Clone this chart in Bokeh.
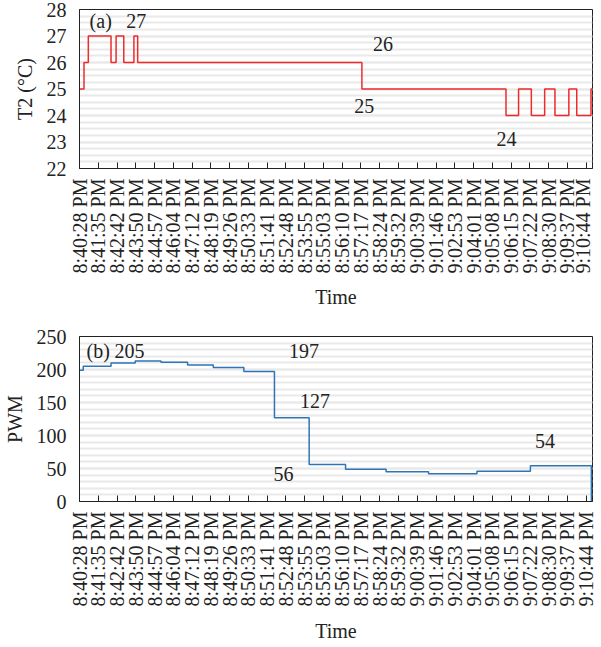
import math
from bokeh.plotting import figure
from bokeh.layouts import column
from bokeh.models import Range1d, FixedTicker, SingleIntervalTicker, ColumnDataSource
from bokeh.embed import file_html
from bokeh.resources import INLINE
from bokeh.core.properties import value

FONT = "Liberation Serif"

time_labels = ["8:40:28 PM", "8:41:35 PM", "8:42:42 PM", "8:43:50 PM", "8:44:57 PM",
               "8:46:04 PM", "8:47:12 PM", "8:48:19 PM", "8:49:26 PM", "8:50:33 PM",
               "8:51:41 PM", "8:52:48 PM", "8:53:55 PM", "8:55:03 PM", "8:56:10 PM",
               "8:57:17 PM", "8:58:24 PM", "8:59:32 PM", "9:00:39 PM", "9:01:46 PM",
               "9:02:53 PM", "9:04:01 PM", "9:05:08 PM", "9:06:15 PM", "9:07:22 PM",
               "9:08:30 PM", "9:09:37 PM", "9:10:44 PM"]

# T2 temperature (step changes, x in tick-index units)
t2_time = [0, 0.24, 0.47, 1.68, 1.95, 2.36, 2.9, 3.1, 15.05, 22.73, 23.4, 24.08,
           24.79, 25.34, 26.08, 26.5, 27.26, 27.34]
t2_vals = [25, 26, 27, 26, 27, 26, 27, 26, 25, 24, 25, 24, 25, 24, 25, 24, 25, 25]

# PWM (step changes)
pwm_time = [0, 0.2, 1.68, 2.97, 4.34, 5.76, 7.13, 8.76, 10.39, 12.24, 14.18, 16.34,
            18.6, 21.18, 24.03, 27.28]
pwm_vals = [199, 205, 210, 213, 211, 207, 203, 197, 127, 56, 49, 45, 42, 46, 54, 0]

# annotations
a_text = ["(a)", "27", "26", "25", "24"]
a_x = [1.13, 3.03, 16.18, 15.18, 22.76]
a_y = [27.57, 27.57, 26.71, 24.35, 23.11]

b_text = ["(b)", "205", "197", "127", "56", "54"]
b_x = [1.0, 2.66, 11.97, 12.55, 10.87, 24.81]
b_y = [228, 228, 228, 153, 42, 92]

X_END = 27.34


def make_fig(ylo, yhi, interval, nminor, frame_h, top_border, ylabel,
             lab_standoff, title_standoff):
    p = figure(output_backend="svg", toolbar_location=None,
               frame_width=513, frame_height=frame_h,
               x_range=Range1d(0, X_END), y_range=Range1d(ylo, yhi),
               min_border_left=68, min_border_right=11,
               min_border_top=top_border, min_border_bottom=0)
    p.background_fill_color = "white"
    p.border_fill_color = "white"
    p.outline_line_color = "#222222"
    p.outline_line_width = 1

    xa = p.xaxis[0]
    xa.ticker = FixedTicker(ticks=list(range(len(time_labels))))
    xa.major_label_overrides = {i: s for i, s in enumerate(time_labels)}
    xa.major_label_orientation = math.pi / 2
    xa.major_tick_in = 6
    xa.major_tick_out = 0
    xa.minor_tick_line_color = None
    xa.major_label_standoff = lab_standoff
    xa.axis_label = "Time"
    xa.axis_label_standoff = title_standoff
    xa.axis_line_color = "#222222"
    xa.major_tick_line_color = "#222222"

    ya = p.yaxis[0]
    ya.ticker = SingleIntervalTicker(interval=interval, num_minor_ticks=nminor)
    ya.major_tick_in = 0
    ya.major_tick_out = 0
    ya.minor_tick_line_color = None
    ya.major_label_standoff = 9
    ya.axis_label = ylabel
    ya.axis_label_standoff = 8
    ya.axis_line_color = "#222222"

    for ax in (xa, ya):
        ax.major_label_text_font = FONT
        ax.major_label_text_font_size = "20px"
        ax.major_label_text_color = "#222222"
        ax.axis_label_text_font = FONT
        ax.axis_label_text_font_size = "20px"
        ax.axis_label_text_font_style = "normal"
        ax.axis_label_text_color = "#222222"

    p.xgrid.grid_line_color = None
    p.ygrid.grid_line_color = "#e9e9e9"
    p.ygrid.grid_line_width = 2
    p.ygrid.minor_grid_line_color = "#e9e9e9"
    p.ygrid.minor_grid_line_width = 2
    return p


p1 = make_fig(22, 28, 1, 4, 159, 9, "T2 (°C)", 10, 9)
p1.step(t2_time, t2_vals, mode="after", line_color="#ee2b2b", line_width=1.5)
p1.text(x="x", y="y", text="t",
        source=ColumnDataSource(dict(x=a_x, y=a_y, t=a_text)),
        text_font=value(FONT), text_font_size=value("20px"), text_color="#222222",
        text_align="center", text_baseline="middle")

p2 = make_fig(0, 250, 50, 5, 165, 26, "PWM", 10, 10)
p2.step(pwm_time, pwm_vals, mode="after", line_color="#2e75b6", line_width=1.5)
p2.text(x="x", y="y", text="t",
        source=ColumnDataSource(dict(x=b_x, y=b_y, t=b_text)),
        text_font=value(FONT), text_font_size=value("20px"), text_color="#222222",
        text_align="center", text_baseline="middle")

layout = column(p1, p2, spacing=0)
open("out.html", "w").write(file_html(layout, INLINE))
